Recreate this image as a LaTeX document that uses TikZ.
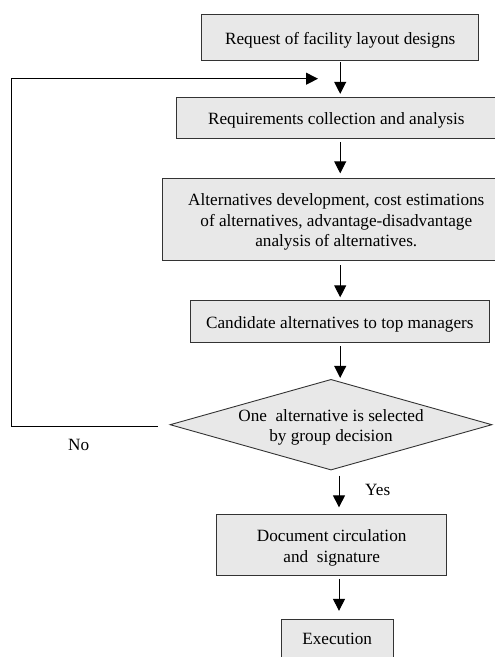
\documentclass[tikz,border=0pt]{standalone}
\usepackage{fontspec}
\setmainfont{Liberation Serif}
\usetikzlibrary{shapes.geometric,arrows.meta}
\newcommand{\firststrut}{\rule{0pt}{1.04em}}
\begin{document}
\begin{tikzpicture}[x=1pt,y=-1pt,
  every node/.style={font=\fontsize{17.2}{20.4}\selectfont, inner sep=0pt},
  procbox/.style={draw=black!80, line width=0.9pt, fill=black!9, align=center},
  decision/.style={diamond, shape aspect=3.54, inner sep=-2pt, draw=black!80, line width=0.9pt, fill=black!9, align=center},
  flow/.style={line width=1pt, -{Triangle[width=12pt,length=12pt]}},
  plain/.style={line width=1pt}]
\useasboundingbox (0,0) rectangle (495,657);
\clip (0,0) rectangle (495,657);
\node[procbox, minimum width=277pt, minimum height=45.6pt] (b1) at (340.2,37.5) {\firststrut Request of facility layout designs};
\node[procbox, minimum width=320pt, minimum height=41pt] (b2) at (336.3,117.8) {\firststrut Requirements collection and analysis};
\node[procbox, minimum width=348pt, minimum height=82pt] (b3) at (336.3,219.3) {\firststrut Alternatives development, cost estimations\\of alternatives, advantage-disadvantage\\analysis of alternatives.};
\node[procbox, minimum width=299pt, minimum height=41.3pt] (b4) at (339.8,321.4) {\firststrut Candidate alternatives to top managers};
\node[decision, minimum width=322pt, minimum height=90.7pt] (d) at (331,424.7) {\firststrut One\ \ alternative is selected\\by group decision};
\node[procbox, minimum width=230pt, minimum height=61pt] (b5) at (331.7,544.8) {\firststrut Document circulation\\and\ \ signature};
\node[procbox, minimum width=111.7pt, minimum height=40pt] (b6) at (337.2,639.3) {Execution};
\node (no) at (78.7,445) {No};
\node (yes) at (377.7,490) {Yes};
\coordinate (c1) at (11,426.7);
\coordinate (c2) at (11,78.7);
\coordinate (c3) at (318,78.7);
\coordinate (ya) at (339,470);
\draw[flow, shorten <=1.7pt, shorten >=3pt] (b1.south) -- (b1.south |- b2.north);
\draw[flow, shorten <=3.5pt, shorten >=4.5pt] (b1.south |- b2.south) -- (b1.south |- b3.north);
\draw[flow, shorten <=4.5pt, shorten >=3pt] (b1.south |- b3.south) -- (b1.south |- b4.north);
\draw[flow, shorten <=3.5pt, shorten >=1pt] (b1.south |- b4.south) -- (b1.south |- d.north);
\draw[flow, shorten <=5.5pt, shorten >=6.5pt] (ya) -- (ya |- b5.north);
\draw[flow, shorten <=3pt, shorten >=8pt] (ya |- b5.south) -- (ya |- b6.north);
\draw[plain, shorten <=12pt] (d.west |- c1) -- (c1) -- (c2);
\draw[flow] (c2) -- (c3);
\end{tikzpicture}
\end{document}
